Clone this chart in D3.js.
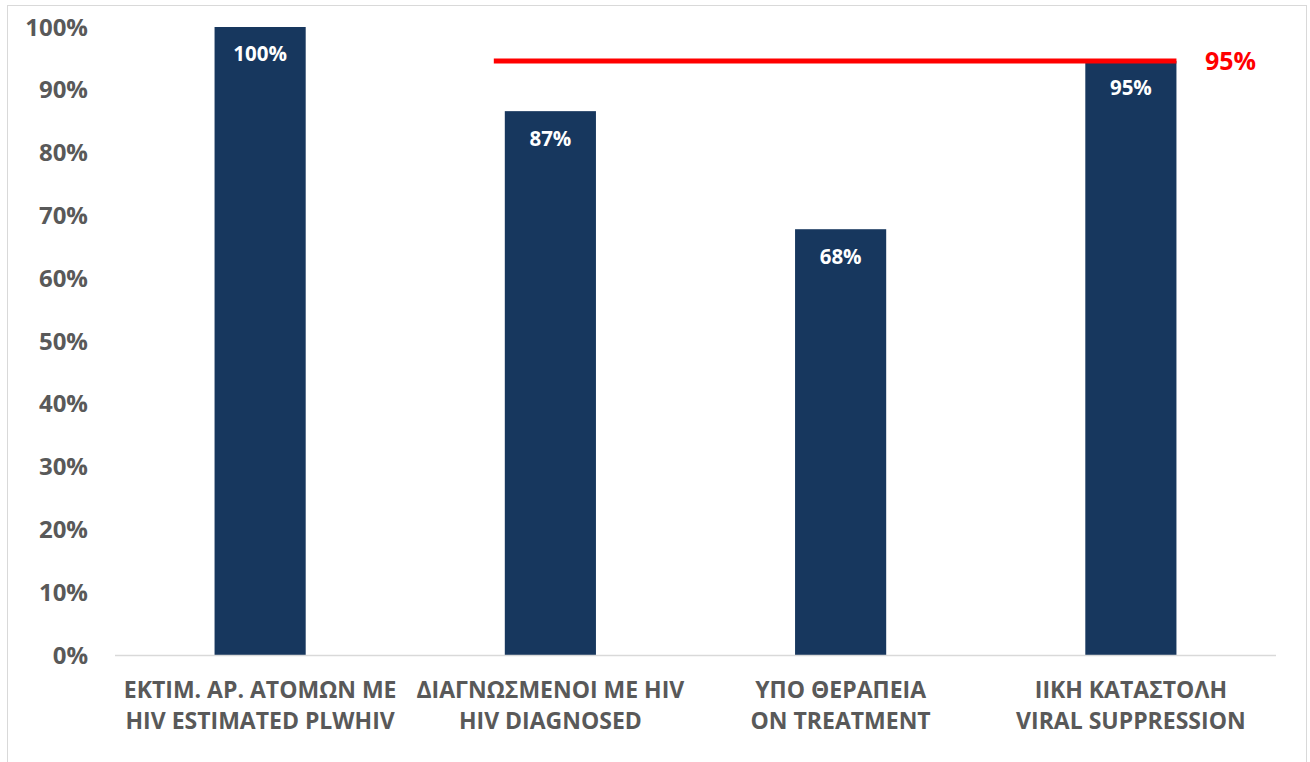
<!DOCTYPE html>
<html>
<head>
<meta charset="utf-8">
<script src="https://cdn.jsdelivr.net/npm/d3@7"></script>
<style>
  body { margin: 0; background: #fff; }
  svg { display: block; font-family: "Open Sans", "Noto Sans", sans-serif; }
</style>
</head>
<body>
<div class="chart"></div>
<script>
// Data
var categories = [
  ["ΕΚΤΙΜ. ΑΡ. ΑΤΟΜΩΝ ΜΕ", "HIV ESTIMATED PLWHIV"],
  ["ΔΙΑΓΝΩΣΜΕΝΟΙ ΜΕ HIV", "HIV DIAGNOSED"],
  ["ΥΠΟ ΘΕΡΑΠΕΙΑ", "ON TREATMENT"],
  ["ΙΙΚΗ ΚΑΤΑΣΤΟΛΗ", "VIRAL SUPPRESSION"]
];
var values = [100, 86.6, 67.8, 94.6];
var valueLabels = ["100%", "87%", "68%", "95%"];
var yTicks = [0, 10, 20, 30, 40, 50, 60, 70, 80, 90, 100];
var target = 94.6;
var targetLabel = "95%";

var width = 1310, height = 762,
    margin = {top: 27, right: 34, bottom: 107, left: 115};

var svg = d3.select("div.chart")
  .append("svg")
    .attr("width", width)
    .attr("height", height);

// chart frame
svg.append("rect")
  .attr("x", 7.5).attr("y", 5.5)
  .attr("width", 1299).attr("height", 770)
  .attr("fill", "none")
  .attr("stroke", "#d9d9d9");

var x = d3.scaleBand()
  .domain(d3.range(categories.length))
  .range([margin.left, width - margin.right])
  .paddingInner(0.686)
  .paddingOuter(0.343);

var y = d3.scaleLinear()
  .domain([0, 100])
  .range([height - margin.bottom, margin.top]);

// y axis labels
svg.append("g")
  .selectAll("text")
  .data(yTicks)
  .enter().append("text")
    .attr("x", 88)
    .attr("y", function(d) { return y(d); })
    .attr("dy", "0.36em")
    .attr("text-anchor", "end")
    .attr("font-size", 24)
    .attr("font-weight", "bold")
    .attr("fill", "#595959")
    .text(function(d) { return d + "%"; });

// bars
svg.append("g")
  .selectAll("rect")
  .data(values)
  .enter().append("rect")
    .attr("x", function(d, i) { return x(i); })
    .attr("y", function(d) { return y(d); })
    .attr("width", x.bandwidth())
    .attr("height", function(d) { return y(0) - y(d); })
    .attr("fill", "#17375e");

// baseline
svg.append("line")
  .attr("x1", margin.left).attr("x2", width - margin.right)
  .attr("y1", y(0) + 0.5).attr("y2", y(0) + 0.5)
  .attr("stroke", "#d9d9d9")
  .attr("stroke-width", 1.5);

// value labels inside bars
svg.append("g")
  .selectAll("text")
  .data(values)
  .enter().append("text")
    .attr("x", function(d, i) { return x(i) + x.bandwidth() / 2; })
    .attr("y", function(d) { return y(d) + 27; })
    .attr("dy", "0.36em")
    .attr("text-anchor", "middle")
    .attr("font-size", 20.5)
    .attr("font-weight", "bold")
    .attr("fill", "#fff")
    .text(function(d, i) { return valueLabels[i]; });

// target line
svg.append("line")
  .attr("x1", x(1) - 11)
  .attr("x2", x(3) + x.bandwidth())
  .attr("y1", y(target)).attr("y2", y(target))
  .attr("stroke", "#ff0000")
  .attr("stroke-width", 5);

svg.append("text")
  .attr("x", x(3) + x.bandwidth() + 54)
  .attr("y", y(target))
  .attr("dy", "0.36em")
  .attr("text-anchor", "middle")
  .attr("font-size", 25)
  .attr("font-weight", "bold")
  .attr("fill", "#ff0000")
  .text(targetLabel);

// category labels
var cat = svg.append("g")
  .selectAll("text")
  .data(categories)
  .enter().append("text")
    .attr("text-anchor", "middle")
    .attr("font-size", 23)
    .attr("font-weight", "bold")
    .attr("fill", "#595959");

cat.selectAll("tspan")
  .data(function(d, i) { return d.map(function(s) { return {s: s, i: i}; }); })
  .enter().append("tspan")
    .attr("x", function(d) { return x(d.i) + x.bandwidth() / 2; })
    .attr("y", function(d, j) { return 698 + j * 31; })
    .text(function(d) { return d.s; });
</script>
</body>
</html>
